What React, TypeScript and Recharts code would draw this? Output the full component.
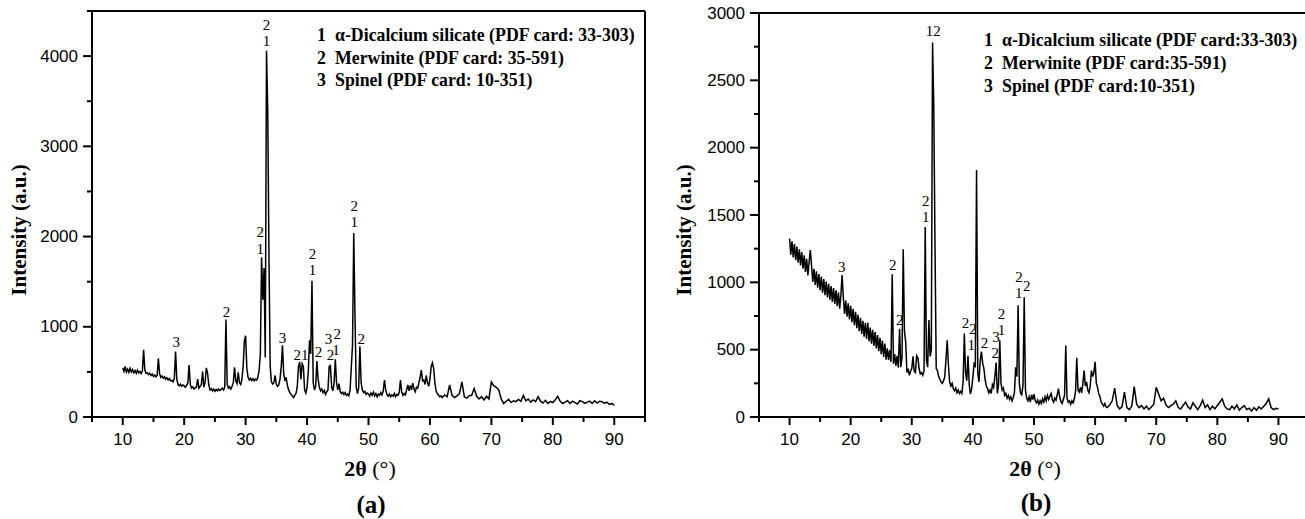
import { LineChart, Line, XAxis, YAxis, ReferenceLine, ReferenceDot } from 'recharts'

// 2θ grid shared by both scans (0.2° up to 62°, 0.4° after)
const twoTheta = [
  10, 10.2, 10.4, 10.6, 10.8, 11, 11.2, 11.4, 11.6, 11.8,
  12, 12.2, 12.4, 12.6, 12.8, 13, 13.2, 13.4, 13.6, 13.8,
  14, 14.2, 14.4, 14.6, 14.8, 15, 15.2, 15.4, 15.6, 15.8,
  16, 16.2, 16.4, 16.6, 16.8, 17, 17.2, 17.4, 17.6, 17.8,
  18, 18.2, 18.4, 18.6, 18.8, 19, 19.2, 19.4, 19.6, 19.8,
  20, 20.2, 20.4, 20.6, 20.8, 21, 21.2, 21.4, 21.6, 21.8,
  22, 22.2, 22.4, 22.6, 22.8, 23, 23.2, 23.4, 23.6, 23.8,
  24, 24.2, 24.4, 24.6, 24.8, 25, 25.2, 25.4, 25.6, 25.8,
  26, 26.2, 26.4, 26.6, 26.8, 27, 27.2, 27.4, 27.6, 27.8,
  28, 28.2, 28.4, 28.6, 28.8, 29, 29.2, 29.4, 29.6, 29.8,
  30, 30.2, 30.4, 30.6, 30.8, 31, 31.2, 31.4, 31.6, 31.8,
  32, 32.2, 32.4, 32.6, 32.8, 33, 33.2, 33.4, 33.6, 33.8,
  34, 34.2, 34.4, 34.6, 34.8, 35, 35.2, 35.4, 35.6, 35.8,
  36, 36.2, 36.4, 36.6, 36.8, 37, 37.2, 37.4, 37.6, 37.8,
  38, 38.2, 38.4, 38.6, 38.8, 39, 39.2, 39.4, 39.6, 39.8,
  40, 40.2, 40.4, 40.6, 40.8, 41, 41.2, 41.4, 41.6, 41.8,
  42, 42.2, 42.4, 42.6, 42.8, 43, 43.2, 43.4, 43.6, 43.8,
  44, 44.2, 44.4, 44.6, 44.8, 45, 45.2, 45.4, 45.6, 45.8,
  46, 46.2, 46.4, 46.6, 46.8, 47, 47.2, 47.4, 47.6, 47.8,
  48, 48.2, 48.4, 48.6, 48.8, 49, 49.2, 49.4, 49.6, 49.8,
  50, 50.2, 50.4, 50.6, 50.8, 51, 51.2, 51.4, 51.6, 51.8,
  52, 52.2, 52.4, 52.6, 52.8, 53, 53.2, 53.4, 53.6, 53.8,
  54, 54.2, 54.4, 54.6, 54.8, 55, 55.2, 55.4, 55.6, 55.8,
  56, 56.2, 56.4, 56.6, 56.8, 57, 57.2, 57.4, 57.6, 57.8,
  58, 58.2, 58.4, 58.6, 58.8, 59, 59.2, 59.4, 59.6, 59.8,
  60, 60.2, 60.4, 60.6, 60.8, 61, 61.2, 61.4, 61.6, 61.8,
  62, 62.4, 62.8, 63.2, 63.6, 64, 64.4, 64.8, 65.2, 65.6,
  66, 66.4, 66.8, 67.2, 67.6, 68, 68.4, 68.8, 69.2, 69.6,
  70, 70.4, 70.8, 71.2, 71.6, 72, 72.4, 72.8, 73.2, 73.6,
  74, 74.4, 74.8, 75.2, 75.6, 76, 76.4, 76.8, 77.2, 77.6,
  78, 78.4, 78.8, 79.2, 79.6, 80, 80.4, 80.8, 81.2, 81.6,
  82, 82.4, 82.8, 83.2, 83.6, 84, 84.4, 84.8, 85.2, 85.6,
  86, 86.4, 86.8, 87.2, 87.6, 88, 88.4, 88.8, 89.2, 89.6,
  90,
]

// scan (a)
const intensityA = [
  545, 505, 560, 500, 530, 495, 540, 500, 525, 490,
  515, 485, 520, 490, 505, 480, 510, 745, 520, 485,
  490, 470, 485, 460, 475, 450, 465, 445, 460, 650,
  480, 440, 455, 430, 445, 420, 435, 410, 425, 400,
  405, 390, 430, 725, 420, 360, 345, 365, 340, 355,
  345, 330, 350, 380, 575, 360, 320, 335, 310, 325,
  330, 420, 320, 340, 360, 505, 330, 380, 545, 490,
  360, 300, 315, 290, 310, 285, 305, 290, 310, 295,
  305, 320, 300, 330, 1080, 360, 320, 335, 310, 340,
  380, 550, 400, 370, 495, 380, 360, 420, 560, 845,
  900, 540, 440, 410, 430, 405, 425, 400, 420, 410,
  440, 520, 700, 1770, 1300, 1650, 660, 4060, 3410, 1780,
  560, 390, 365, 380, 460, 360, 340, 355, 420, 560,
  795, 480, 400, 440, 350, 300, 270, 250, 235, 215,
  240, 260, 330, 560, 610, 420, 590, 560, 300, 265,
  330, 500, 850, 700, 1510, 380, 300, 340, 620, 420,
  330, 290, 310, 270, 295, 250, 280, 300, 560, 570,
  330, 290, 380, 640, 380, 300, 370, 280, 260, 275,
  250, 270, 240, 255, 235, 300, 550, 800, 2040, 1140,
  330, 260, 320, 785, 380, 300, 270, 285, 250, 265,
  255, 230, 265, 240, 275, 235, 260, 225, 255, 240,
  270, 245, 290, 410, 300, 250, 230, 255, 225, 245,
  230, 260, 225, 250, 240, 270, 410, 280, 240, 260,
  245, 300, 355, 290, 350, 300, 375, 310, 280, 330,
  320, 380, 440, 520, 400, 410, 360, 460, 380, 340,
  420, 560, 600, 540, 380, 290, 260, 240, 225, 235,
  215, 245, 225, 355, 240, 215, 235, 260, 390, 225,
  210, 235, 240, 315, 230, 200, 225, 190, 230, 200,
  390, 345, 330, 300, 200, 150, 175, 195, 160, 180,
  170, 195, 175, 240, 180, 200, 165, 190, 170, 225,
  175, 155, 185, 150, 170, 160, 190, 230, 175, 150,
  165, 180, 150, 175, 160, 145, 180, 170, 150, 165,
  175, 150, 180, 155, 175, 170, 150, 165, 140, 150,
  130,
]

// scan (b)
const intensityB = [
  1325, 1205, 1305, 1185, 1285, 1165, 1265, 1145, 1245, 1125,
  1225, 1102, 1200, 1077, 1175, 1052, 1150, 1240, 1125, 1002,
  1100, 980, 1081, 961, 1062, 942, 1043, 923, 1024, 904,
  1005, 887, 989, 871, 973, 855, 957, 839, 941, 823,
  925, 805, 905, 1055, 885, 765, 865, 745, 845, 725,
  825, 704, 803, 682, 781, 660, 759, 638, 737, 616,
  715, 596, 698, 579, 700, 562, 664, 545, 647, 528,
  630, 509, 609, 488, 588, 467, 567, 446, 546, 425,
  510, 423, 496, 409, 1060, 395, 468, 381, 454, 367,
  655, 370, 440, 1245, 640, 560, 330, 360, 310, 340,
  360, 450, 340, 330, 455, 440, 360, 320, 330, 310,
  340, 1410, 420, 370, 720, 450, 500, 2780, 2300, 1275,
  360, 345, 300, 280, 260, 250, 270, 300, 430, 570,
  380, 260, 230, 250, 210, 195, 215, 180, 200, 175,
  190, 175, 260, 620, 330, 270, 455, 240, 170, 210,
  300, 395, 380, 1835, 330, 260, 420, 485, 400, 360,
  280, 230, 210, 180, 200, 175, 240, 220, 300, 405,
  175, 240, 570, 250, 200, 215, 160, 175, 140, 160,
  130, 150, 120, 145, 180, 370, 300, 830, 250, 175,
  165, 240, 890, 200, 140, 120, 150, 110, 165, 130,
  170, 120, 105, 125, 95, 120, 100, 135, 110, 150,
  120, 160, 130, 155, 175, 130, 110, 140, 125, 165,
  210, 150, 115, 100, 130, 160, 530, 140, 110, 120,
  95, 120, 105, 135, 190, 440, 200, 185, 220, 180,
  250, 345, 230, 260, 200, 180, 230, 345, 300, 330,
  410, 250, 220, 170, 150, 110, 95, 80, 100, 75,
  70, 90, 120, 215, 85, 60, 75, 185, 70, 55,
  80, 225, 95, 70, 85, 60, 80, 55, 75, 95,
  220, 170, 120, 140, 90, 70, 85, 95, 120, 70,
  60, 85, 110, 75, 60, 105, 80, 55, 85, 125,
  70, 90, 55, 80, 60, 85, 110, 135, 80, 60,
  55, 80, 60, 90, 50, 70, 85, 55, 65, 45,
  70, 50, 75, 60, 80, 100, 135, 70, 55, 65,
  60,
]

const xTicks = [5, 10, 15, 20, 25, 30, 35, 40, 45, 50, 55, 60, 65, 70, 75, 80, 85, 90, 95]
const xLabels = [10, 20, 30, 40, 50, 60, 70, 80, 90]
const yTicksA = [0, 500, 1000, 1500, 2000, 2500, 3000, 3500, 4000, 4500]
const yLabelsA = [0, 1000, 2000, 3000, 4000]
const yTicksB = [0, 250, 500, 750, 1000, 1250, 1500, 1750, 2000, 2250, 2500, 2750, 3000]
const yLabelsB = [0, 500, 1000, 1500, 2000, 2500, 3000]

const legendA = [
  { n: '1', text: 'α-Dicalcium silicate (PDF card: 33-303)' },
  { n: '2', text: 'Merwinite (PDF card: 35-591)' },
  { n: '3', text: 'Spinel (PDF card: 10-351)' },
]
const legendB = [
  { n: '1', text: 'α-Dicalcium silicate (PDF card:33-303)' },
  { n: '2', text: 'Merwinite (PDF card:35-591)' },
  { n: '3', text: 'Spinel (PDF card:10-351)' },
]

// phase marks: 2θ, height of the mark, phase number
const peaksA = [
  { t: 18.7, v: 830, text: '3' },
  { t: 26.9, v: 1165, text: '2' },
  { t: 32.4, v: 2045, text: '2' },
  { t: 32.4, v: 1865, text: '1' },
  { t: 33.4, v: 4345, text: '2' },
  { t: 33.4, v: 4165, text: '1' },
  { t: 36.0, v: 880, text: '3' },
  { t: 39.0, v: 685, text: '21' },
  { t: 40.9, v: 1805, text: '2' },
  { t: 40.9, v: 1625, text: '1' },
  { t: 41.85, v: 720, text: '2' },
  { t: 43.5, v: 865, text: '3' },
  { t: 43.8, v: 685, text: '2' },
  { t: 44.9, v: 925, text: '2' },
  { t: 44.7, v: 745, text: '1' },
  { t: 47.7, v: 2340, text: '2' },
  { t: 47.7, v: 2160, text: '1' },
  { t: 48.8, v: 870, text: '2' },
]
const peaksB = [
  { t: 18.55, v: 1115, text: '3' },
  { t: 26.9, v: 1130, text: '2' },
  { t: 28.05, v: 720, text: '2' },
  { t: 32.3, v: 1605, text: '2' },
  { t: 32.3, v: 1485, text: '1' },
  { t: 33.5, v: 2865, text: '12' },
  { t: 38.8, v: 700, text: '2' },
  { t: 40.0, v: 655, text: '2' },
  { t: 39.75, v: 535, text: '1' },
  { t: 41.9, v: 550, text: '2' },
  { t: 43.8, v: 595, text: '3' },
  { t: 43.65, v: 475, text: '2' },
  { t: 44.7, v: 765, text: '2' },
  { t: 44.7, v: 645, text: '1' },
  { t: 47.55, v: 1040, text: '2' },
  { t: 47.5, v: 918, text: '1' },
  { t: 48.8, v: 975, text: '2' },
]

const rows = twoTheta.map((t, i) => ({ t, a: intensityA[i], b: intensityB[i] }))

const SANS = '"Liberation Sans", Arial, sans-serif'
const SERIF = '"Liberation Serif", "Times New Roman", serif'

type Peak = { t: number; v: number; text: string }

function Panel({ left, dataKey, yMax, yTicks, yLabels, peaks, top, right, yWidth }: {
  left: number; dataKey: string; yMax: number; yTicks: number[]; yLabels: number[]
  peaks: Peak[]; top: number; right: number; yWidth: number
}) {
  const xTick = ({ x, y, payload }: any) => {
    const major = xLabels.includes(payload.value)
    return (
      <g>
        <line x1={x} x2={x} y1={y} y2={y + (major ? 8 : 5)} stroke="#000" strokeWidth={2} />
        {major && (
          <text x={x} y={y + 22} textAnchor="middle" dominantBaseline="central" fontFamily={SANS} fontSize={17} fill="#000">
            {payload.value}
          </text>
        )}
      </g>
    )
  }
  const yTick = ({ x, y, payload }: any) => {
    const major = yLabels.includes(payload.value)
    return (
      <g>
        <line x1={x} x2={x - (major ? 9 : 5)} y1={y} y2={y} stroke="#000" strokeWidth={2} />
        {major && (
          <text x={x - 14} y={y} textAnchor="end" dominantBaseline="central" fontFamily={SANS} fontSize={17} fill="#000">
            {payload.value}
          </text>
        )}
      </g>
    )
  }
  return (
    <div style={{ position: 'absolute', left, top: 0 }}>
      <LineChart width={660} height={519} data={rows} margin={{ top, right, bottom: 0, left: 0 }}>
        <XAxis dataKey="t" type="number" domain={[5, 95]} ticks={xTicks} interval={0} allowDataOverflow
          tickLine={false} tickSize={0} tickMargin={0} tick={xTick} height={102}
          axisLine={{ stroke: '#000', strokeWidth: 2 }} />
        <YAxis type="number" domain={[0, yMax]} ticks={yTicks} interval={0} allowDataOverflow
          tickLine={false} tickSize={0} tickMargin={0} tick={yTick} width={yWidth}
          axisLine={{ stroke: '#000', strokeWidth: 2 }} />
        <ReferenceLine y={yMax} stroke="#000" strokeWidth={2} />
        <ReferenceLine x={95} stroke="#000" strokeWidth={2} />
        <Line type="linear" dataKey={dataKey} stroke="#000" strokeWidth={1.5} dot={false} activeDot={false} isAnimationActive={false} />
        {peaks.map((p, i) => (
          <ReferenceDot key={i} x={p.t} y={p.v} r={0} ifOverflow="visible"
            shape={(s: any) => (
              <text x={s.cx} y={s.cy} textAnchor="middle" dominantBaseline="central" fontFamily={SERIF} fontSize={15}
                style={{ fill: '#000', stroke: 'none' }}>
                {p.text}
              </text>
            )} />
        ))}
      </LineChart>
    </div>
  )
}

function Legend({ items, x, y0, gap }: { items: { n: string; text: string }[]; x: number; y0: number; gap: number }) {
  return (
    <g fontFamily={SERIF} fontWeight="bold" fontSize={17.8} fill="#000">
      {items.map((it, i) => (
        <g key={it.n}>
          <text x={x} y={y0 + i * gap} dominantBaseline="central">{it.n}</text>
          <text x={x + 18} y={y0 + i * gap} dominantBaseline="central">{it.text}</text>
        </g>
      ))}
    </g>
  )
}

export default function App() {
  return (
    <div style={{ position: 'absolute', left: 0, top: 0, width: 1305, height: 519, overflow: 'hidden', background: '#fff' }}>
      <Panel left={0} dataKey="a" yMax={4500} yTicks={yTicksA} yLabels={yLabelsA} peaks={peaksA} top={11} right={15} yWidth={92} />
      <Panel left={666} dataKey="b" yMax={3000} yTicks={yTicksB} yLabels={yLabelsB} peaks={peaksB} top={13} right={17} yWidth={93} />
      <svg width={1305} height={519} style={{ position: 'absolute', left: 0, top: 0, pointerEvents: 'none' }}>
        <Legend items={legendA} x={317} y0={35} gap={22.5} />
        <Legend items={legendB} x={984} y0={39.5} gap={23} />
        <g fontFamily={SERIF} fill="#000">
          <text x={19} y={230} transform="rotate(-90 19 230)" textAnchor="middle" dominantBaseline="central" fontWeight="bold" fontSize={21}>Intensity (a.u.)</text>
          <text x={684} y={230} transform="rotate(-90 684 230)" textAnchor="middle" dominantBaseline="central" fontWeight="bold" fontSize={21}>Intensity (a.u.)</text>
          <text x={370} y={468} textAnchor="middle" dominantBaseline="central" fontSize={22}>
            <tspan fontWeight="bold">2θ</tspan> (°)
          </text>
          <text x={1035} y={468} textAnchor="middle" dominantBaseline="central" fontSize={22}>
            <tspan fontWeight="bold">2θ</tspan> (°)
          </text>
          <text x={371} y={504} textAnchor="middle" dominantBaseline="central" fontWeight="bold" fontSize={25}>(a)</text>
          <text x={1036} y={502} textAnchor="middle" dominantBaseline="central" fontWeight="bold" fontSize={25}>(b)</text>
        </g>
      </svg>
    </div>
  )
}
